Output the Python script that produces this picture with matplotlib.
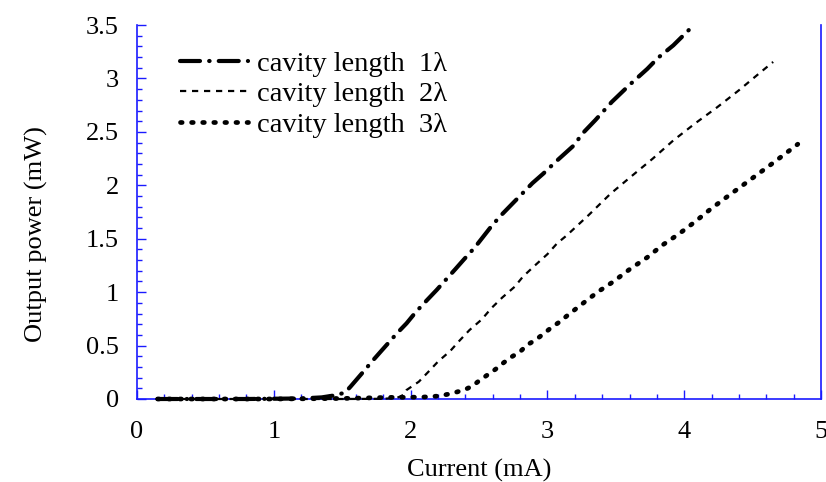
import matplotlib
matplotlib.use("Agg")
import matplotlib.pyplot as plt
from matplotlib.ticker import MultipleLocator, FuncFormatter

plt.rcParams['font.family'] = ['Liberation Serif', 'DejaVu Serif']

# Data
x1 = [0.15, 0.4, 0.8, 1.2, 1.35, 1.45, 1.52, 1.56, 1.64, 1.72, 1.78, 1.90, 1.97, 2.04,
      2.12, 2.19, 2.33, 2.39, 2.47, 2.58, 2.65, 2.81, 2.89, 2.97, 3.06, 3.19, 3.26,
      3.35, 3.47, 3.60, 3.73, 3.81, 3.92, 4.07]
y1 = [0, 0, 0, 0.005, 0.015, 0.035, 0.06, 0.115, 0.234, 0.355, 0.442, 0.615, 0.708, 0.817,
      0.926, 1.02, 1.22, 1.307, 1.42, 1.60, 1.705, 1.915, 2.02, 2.11, 2.22, 2.37, 2.49,
      2.61, 2.78, 2.94, 3.09, 3.195, 3.31, 3.5]

x2 = [0.15, 0.5, 1.0, 1.5, 1.8, 1.9, 1.95, 1.97, 2.06, 2.13, 2.20, 2.29, 2.36, 2.43, 2.52,
      2.59, 2.67, 2.76, 2.82, 2.90, 3.00, 3.07, 3.14, 3.30, 3.46, 3.60, 3.77, 3.92, 4.08,
      4.24, 4.40, 4.55, 4.65]
y2 = [0, 0, 0, 0, 0.002, 0.01, 0.04, 0.084, 0.162, 0.255, 0.35, 0.45, 0.55, 0.645, 0.745,
      0.85, 0.95, 1.05, 1.144, 1.24, 1.356, 1.456, 1.53, 1.72, 1.92, 2.07, 2.25, 2.42, 2.58,
      2.73, 2.89, 3.05, 3.155]

x3 = [0.15, 0.5, 1.0, 1.5, 1.85, 1.97, 2.09, 2.21, 2.27, 2.33, 2.39, 2.45, 2.50, 2.56, 2.62,
      2.68, 2.74, 2.80, 2.85, 2.91, 2.97, 3.02, 3.09, 3.15, 3.25, 3.37, 3.48, 3.60, 3.73,
      3.84, 3.96, 4.08, 4.19, 4.31, 4.48, 4.65, 4.83]
y3 = [0, 0, 0, 0.005, 0.015, 0.016, 0.018, 0.028, 0.044, 0.063, 0.084, 0.12, 0.17, 0.224,
      0.278, 0.34, 0.396, 0.442, 0.505, 0.55, 0.608, 0.66, 0.723, 0.786, 0.886, 1.004,
      1.097, 1.213, 1.326, 1.44, 1.544, 1.66, 1.775, 1.89, 2.05, 2.21, 2.385]

labels = ['cavity length  1\u03bb', 'cavity length  2\u03bb', 'cavity length  3\u03bb']
xlabel = 'Current (mA)'
ylabel = 'Output power (mW)'

blue = '#1a1aff'
fs = 19

fig = plt.figure(figsize=(8.26, 4.82), dpi=100)
ax = fig.add_axes([0.1659, 0.1722, 0.994 - 0.1659, 0.948 - 0.1722])

l1, = ax.plot(x1, y1, color='black', lw=3.0, linestyle=(0, (4.8, 2.2, 0.1, 2.2)),
              dash_capstyle='round', clip_on=False, zorder=5)
l2, = ax.plot(x2, y2, color='black', lw=1.6, linestyle=(0, (2.8, 2.6)),
              dash_capstyle='butt', clip_on=False, zorder=5)
l3, = ax.plot(x3, y3, color='black', lw=3.4, linestyle=(0, (0.35, 2.0)),
              dash_capstyle='round', clip_on=False, zorder=5)

ax.set_xlim(0, 5)
ax.set_ylim(0, 3.5)
ax.xaxis.set_major_locator(MultipleLocator(1))
ax.xaxis.set_minor_locator(MultipleLocator(0.2))
ax.yaxis.set_major_locator(MultipleLocator(0.5))
ax.yaxis.set_minor_locator(MultipleLocator(0.1))
ax.yaxis.set_major_formatter(FuncFormatter(lambda v, p: ('%g' % v)))

for s in ['left', 'bottom', 'right']:
    ax.spines[s].set_color(blue)
    ax.spines[s].set_linewidth(1.2)
ax.spines['top'].set_visible(False)

ax.tick_params(which='both', direction='in', color=blue, top=False, right=False,
               labelsize=fs, labelcolor='black')
ax.tick_params(which='major', length=6.5, width=1.0)
ax.tick_params(which='minor', length=3.8, width=1.0)
ax.tick_params(axis='y', which='major', pad=13)
ax.tick_params(axis='x', which='major', pad=16)

ax.set_xlabel(xlabel, fontsize=fs)
ax.set_ylabel(ylabel, fontsize=fs)
ax.xaxis.set_label_coords(0.5, -0.16)
ax.yaxis.set_label_coords(-0.13, 0.44)

leg = ax.legend([l1, l2, l3], labels, loc='upper left', bbox_to_anchor=(0.046, 0.962),
                frameon=False, fontsize=20.5, handlelength=2.4, handletextpad=0.3,
                labelspacing=0.16, borderaxespad=0)

fig.savefig('out.png', dpi=100)
